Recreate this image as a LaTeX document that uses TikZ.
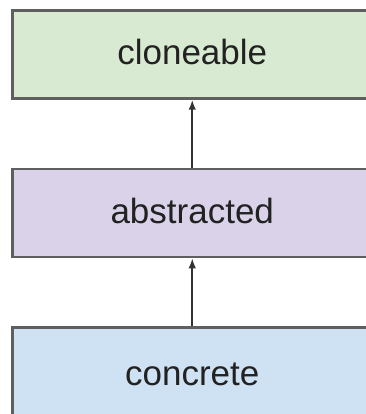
\documentclass[tikz,border=0pt]{standalone}
\usepackage{fontspec}
\setmainfont{Liberation Sans}
\usetikzlibrary{arrows.meta}
\definecolor{gfill}{HTML}{D9EAD3}
\definecolor{pfill}{HTML}{D9D2E9}
\definecolor{bfill}{HTML}{CFE2F3}
\definecolor{edge}{HTML}{5F5F5F}
\definecolor{txt}{HTML}{222222}
\definecolor{arr}{HTML}{333333}
\tikzset{
  box/.style={draw=edge, line width=2.5pt, minimum width=359.5pt, minimum height=88pt,
    inner sep=0pt, text=txt, font=\fontsize{35}{40}\selectfont, text height=20pt, text depth=0pt},
  conn/.style={draw=arr, line width=1.8pt, -{Latex[length=10pt,width=7.5pt]}}
}
\begin{document}
\begin{tikzpicture}[x=1pt,y=-1pt]
\useasboundingbox (0,0) rectangle (365,414);
\node[box, fill=gfill] (clo) at (192.25,54.5) {cloneable};
\node[box, fill=pfill] (abs) at (192.25,213) {abstracted};
\node[box, fill=bfill, minimum height=95pt] (con) at (192.25,375) {concrete};
\draw[conn] (abs.north) -- (clo.south);
\draw[conn] (con.north) -- (abs.south);
\end{tikzpicture}
\end{document}
